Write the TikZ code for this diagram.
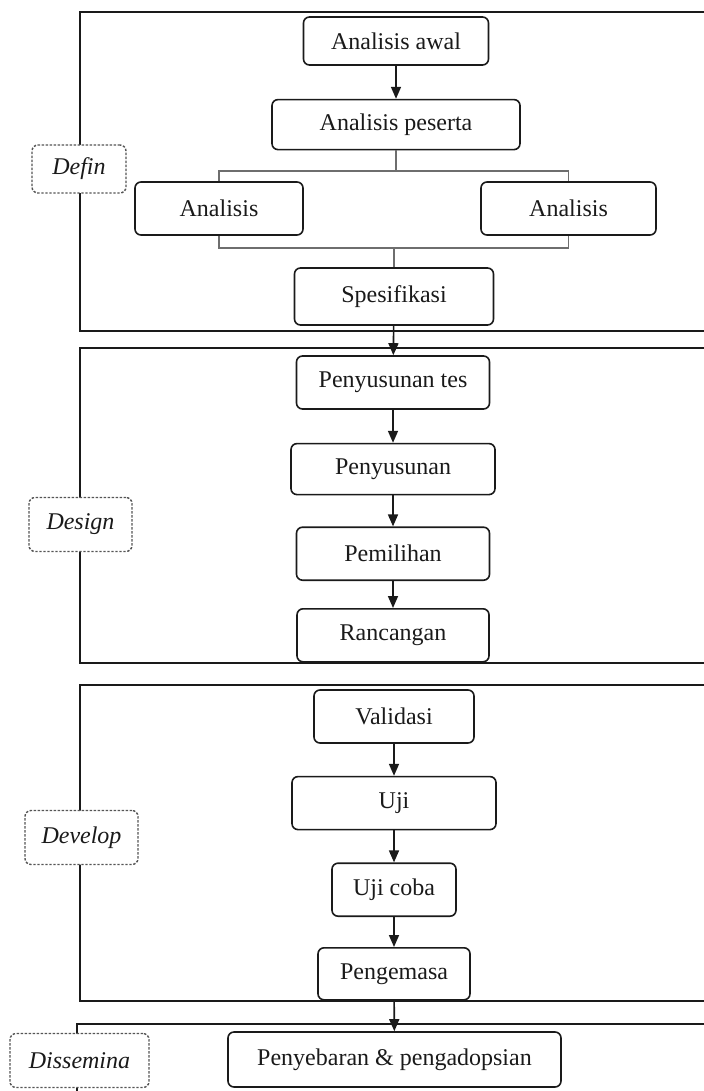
\documentclass[tikz,border=0pt]{standalone}
\usepackage{fontspec}
\setmainfont{Liberation Serif}
\usepackage{tikz}
\usetikzlibrary{calc,positioning,arrows.meta}
\usepackage{xcolor}
\definecolor{linedark}{HTML}{1A1A1A}
\definecolor{forkgray}{HTML}{6E6E6E}
\definecolor{dashgray}{HTML}{555555}

\begin{document}
\begin{tikzpicture}[
      x=0.5pt, y=-0.5pt,
      every node/.style={font=\fontsize{12}{14}\selectfont, text=linedark},
      stepbox/.style={
        rounded corners=3pt,
        draw=linedark, line width=0.8pt,
        fill=white,
        minimum height=26.5pt,
        inner sep=2pt
      },
      phase/.style={
        rounded corners=3pt,
        draw=dashgray, dashed, dash pattern=on 1.2pt off 0.8pt, line width=0.7pt,
        fill=white,
        minimum height=27pt,
        font=\fontsize{12}{14}\selectfont\itshape
      },
      frame/.style={draw=linedark, line width=1pt},
      fork/.style={draw=forkgray, line width=0.9pt},
      flow/.style={draw=linedark, line width=0.8pt,
        -{Triangle[length=6pt, width=5pt]}}
    ]
      \useasboundingbox (0,0) rectangle (704,1091);
      \clip (0,0) rectangle (704,1091);

      % frames of the four phases
      \draw[frame] (80,12) rectangle (760,331);
      \draw[frame] (80,348) rectangle (760,663);
      \draw[frame] (80,685) rectangle (760,1001);
      \draw[frame] (77,1024) rectangle (760,1120);

      % define
      \node[stepbox, minimum width=92.5pt, minimum height=24pt] (awal) at (396,41) {Analisis awal};
      \node[stepbox, minimum width=124pt, minimum height=25pt, below=16.5pt of awal] (peserta) {Analisis peserta};
      \node[stepbox, minimum width=84pt] (anL) at (219,208.5) {Analisis};
      \node[stepbox, minimum width=87.5pt] (anR) at (568.5,208.5) {Analisis};
      \node[stepbox, minimum width=99.5pt, minimum height=28.5pt] (spes) at (394,296.5) {Spesifikasi};
      \node[phase, minimum width=47pt, minimum height=24pt] (pDef) at (79,169) {Defin};

      \coordinate (topbar) at (0,171);
      \coordinate (botbar) at (0,248);
      \draw[flow] (awal) -- (peserta);
      \draw[fork] (peserta.south) -- (peserta.south |- topbar);
      \draw[fork] (anL.north) |- (anR.north |- topbar) -- (anR.north);
      \draw[fork] (anL.south) |- (anR.south |- botbar) -- (anR.south);
      \draw[fork] (spes.north |- botbar) -- (spes.north);

      % design
      \node[stepbox, minimum width=96.5pt] (tes) at (393,382.5) {Penyusunan tes};
      \node[stepbox, minimum width=102pt, minimum height=25.5pt, below=16.5pt of tes] (susun) {Penyusunan};
      \node[stepbox, minimum width=96.5pt, below=15.5pt of susun] (pilih) {Pemilihan};
      \node[stepbox, minimum width=96pt, below=13.5pt of pilih] (ranc) {Rancangan};
      \node[phase, minimum width=51.5pt] (pDes) at (80.5,524.5) {Design};

      \draw[flow] (spes) -- (tes);
      \draw[flow] (tes) -- (susun);
      \draw[flow] (susun) -- (pilih);
      \draw[flow] (pilih) -- (ranc);

      % develop
      \node[stepbox, minimum width=80pt] (valid) at (394,716.5) {Validasi};
      \node[stepbox, minimum width=102pt, below=16pt of valid] (uji) {Uji};
      \node[stepbox, minimum width=62pt, below=16pt of uji] (ujicoba) {Uji coba};
      \node[stepbox, minimum width=76pt, minimum height=26pt, below=15pt of ujicoba] (kemas) {Pengemasa};
      \node[phase, minimum width=56.5pt] (pDev) at (81.5,837.5) {Develop};

      \draw[flow] (valid) -- (uji);
      \draw[flow] (uji) -- (ujicoba);
      \draw[flow] (ujicoba) -- (kemas);

      % disseminate
      \node[stepbox, minimum width=166.5pt, minimum height=27.5pt] (sebar) at (394.5,1059.5) {Penyebaran \& pengadopsian};
      \node[phase, minimum width=69.5pt] (pDis) at (79.5,1060.5) {Dissemina};

      \draw[flow] (kemas) -- (sebar);
    \end{tikzpicture}
\end{document}
